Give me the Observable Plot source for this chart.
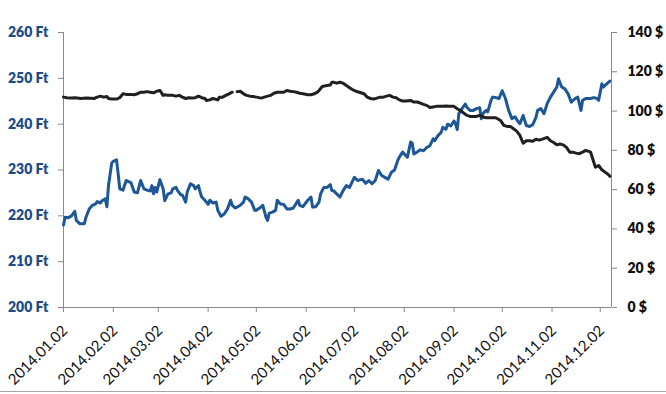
<!DOCTYPE html>
<html>
<head>
<meta charset="utf-8">
<script src="https://cdn.jsdelivr.net/npm/d3@7"></script>
<script src="https://cdn.jsdelivr.net/npm/@observablehq/plot@0.6"></script>
<style>
  html, body { margin: 0; padding: 0; background: #fff; }
  #wrap { position: relative; width: 666px; height: 394px; overflow: hidden; }
  #edge { position: absolute; left: 0; top: 391px; width: 666px; height: 1px; background: #a6a6a6; }
  #chart g[aria-label="y-axis tick label"], #chart g[aria-label="y-axis tick label"] text { font-weight: 800 !important; font-family: Lato, sans-serif; }
</style>
</head>
<body>
<div id="wrap"><div id="chart"></div><div id="edge"></div></div>
<script>
// Day of year 2014 for each reading of the blue (Ft, left axis) series
const blueDay = [2,3,5,7,9,10,12,15,16,18,20,22,23,25,26,28,29,30,32,33,35,36,37,39,41,43,44,46,48,50,52,54,56,57,58,59,60,62,64,65,67,69,70,72,73,75,76,78,79,81,83,84,86,87,88,90,92,93,95,97,98,100,102,104,106,107,109,112,114,115,117,119,121,122,124,126,128,129,130,132,134,135,137,139,141,143,145,148,149,151,154,156,157,159,161,162,164,166,168,169,
  170,172,174,176,178,180,182,183,185,188,190,192,194,196,198,200,202,204,206,208,210,211,213,216,218,219,220,222,224,226,228,230,232,233,235,237,238,240,241,243,245,246,247,248,250,252,253,255,257,259,261,262,263,265,266,268,269,271,273,275,277,279,281,283,285,286,288,290,292,294,296,297,299,301,303,305,307,309,310,312,314,316,318,320,322,324,325,327,330,332,334,335,337,338,340,342];
const blueFt = [218.0,219.7,219.6,220.0,221.0,219.0,218.3,218.3,219.7,221.5,222.3,222.6,223.1,222.8,223.3,223.7,222.0,226.6,231.5,231.9,232.2,229.2,225.9,225.6,227.7,227.4,227.2,225.2,225.0,227.7,225.9,225.6,225.4,226.6,224.8,226.2,225.2,227.9,225.9,223.3,224.8,225.0,225.9,226.2,225.5,224.6,224.5,223.0,225.2,227.0,226.6,225.9,226.6,225.2,224.1,223.4,222.5,223.4,222.8,223.0,221.2,219.9,220.4,221.5,223.4,222.3,221.7,222.3,223.0,224.1,223.7,223.0,221.2,221.2,221.7,222.3,219.7,219.0,220.6,220.8,221.2,223.4,222.6,222.5,221.5,221.5,221.7,223.4,222.3,222.0,223.4,224.1,221.9,222.0,223.0,224.8,226.2,226.2,226.8,225.5,
  225.5,224.8,224.1,225.5,226.6,226.2,227.7,228.4,227.7,228.0,227.1,227.7,227.0,227.7,229.9,228.8,228.4,228.0,229.5,230.0,232.1,232.8,233.9,232.8,236.1,235.9,233.5,233.9,234.4,234.2,234.9,235.3,236.8,236.4,237.5,238.2,239.3,238.9,240.0,239.6,240.7,240.0,238.8,242.3,243.4,244.4,243.7,243.0,243.0,243.4,243.6,241.2,242.3,243.0,242.7,245.2,245.9,245.8,245.6,247.3,245.6,243.0,241.2,241.6,240.5,240.1,241.9,239.7,239.5,239.9,241.5,243.0,243.4,242.3,244.5,245.9,247.0,248.1,249.9,248.1,247.7,246.6,244.8,245.5,245.9,243.0,245.2,245.6,245.6,245.8,245.6,245.2,248.8,248.1,248.8,249.4];

// Day of year 2014 for each reading of the black ($, right axis) series; null = missing day
const blackDay = [2,4,7,9,13,16,19,21,23,25,27,29,30,32,35,37,39,41,44,46,48,50,52,54,56,58,60,62,64,65,67,70,72,74,76,78,80,82,84,86,88,90,91,93,95,98,99,101,103,105,107,108,110,112,114,116,118,120,122,125,127,129,131,133,135,137,139,141,143,145,147,149,151,154,156,158,160,161,163,166,168,169,
  170,172,174,176,178,180,182,184,186,189,191,193,195,197,199,201,203,205,207,209,211,213,215,218,220,222,224,226,228,230,232,234,236,238,240,242,245,247,249,251,253,255,257,259,261,263,265,267,269,271,274,276,278,280,282,284,286,288,290,292,294,296,298,300,303,305,307,309,311,313,315,317,319,321,323,325,327,330,331,333,335,337,339,341,342];
const blackUsd = [107.1,106.8,106.6,106.8,106.4,106.6,106.5,106.4,107.1,107.6,107.1,107.4,106.4,106.1,106.1,106.8,108.8,108.5,108.5,108.3,108.8,109.6,109.6,109.9,109.6,109.3,110.1,110.5,108.0,108.3,108.0,108.0,107.6,108.0,107.1,106.4,106.8,106.6,106.8,107.6,106.8,106.4,105.4,105.7,106.4,105.7,107.1,107.1,108.0,108.8,109.6,null,109.9,110.1,108.8,108.0,107.6,107.4,107.1,106.6,107.1,107.6,108.0,109.1,109.6,109.6,109.6,110.5,110.1,109.9,109.6,109.1,108.8,108.3,108.3,108.8,109.6,110.5,112.5,113.0,113.3,114.7,
  114.7,114.2,114.7,114.2,113.0,111.9,110.8,110.1,109.6,108.8,107.1,106.4,106.1,106.6,107.1,107.1,107.6,108.0,107.1,106.8,105.7,105.1,105.1,105.4,104.6,104.6,104.1,103.4,102.9,101.8,102.1,102.4,102.4,102.4,102.6,102.4,102.4,101.2,100.3,99.0,97.8,97.3,97.3,97.3,97.8,97.0,96.6,96.6,96.6,96.6,95.2,92.7,92.2,92.2,91.0,89.8,87.6,83.6,84.9,84.9,84.6,85.7,85.2,85.7,86.6,84.9,84.0,82.8,83.2,82.8,81.5,79.1,79.1,78.6,78.3,79.1,80.0,79.1,76.5,71.4,72.3,70.1,68.9,67.7,66.8];

const xTickLabels = ["2014.01.02","2014.02.02","2014.03.02","2014.04.02","2014.05.02","2014.06.02","2014.07.02","2014.08.02","2014.09.02","2014.10.02","2014.11.02","2014.12.02"];
const ftTicks = [200,210,220,230,240,250,260];
const usdTicks = [0,20,40,60,80,100,120,140];
const xDomainLabels = ["2014.01.02","2014.12.09"];

const BLUE = "#1d5796";
const BLUE_TEXT = "#1c4c88";
const BLACK = "#231f20";
const GRAY = "#898989";

const parse = d3.utcParse("%Y.%m.%d");
const dayToDate = (d) => new Date(Date.UTC(2014, 0, d));
const usdToFt = d3.scaleLinear([0, 140], [200, 260]);

const blue = blueDay.map((d, i) => ({date: dayToDate(d), v: blueFt[i]}));
const black = blackDay.map((d, i) => ({date: dayToDate(d), v: blackUsd[i] == null ? NaN : usdToFt(blackUsd[i])}));
const xDomain = xDomainLabels.map(parse);
const xTicks = xTickLabels.map(parse);

const chart = Plot.plot({
  width: 666,
  height: 394,
  marginLeft: 63,
  marginRight: 55,
  marginTop: 32,
  marginBottom: 87,
  style: {fontFamily: "Lato, 'Open Sans', sans-serif", fontSize: "14px", background: "#fff"},
  x: {type: "utc", domain: xDomain},
  y: {domain: [200, 260]},
  marks: [
    Plot.ruleY([200], {stroke: GRAY}),
    Plot.ruleX(xDomain, {stroke: GRAY}),
    Plot.axisX({ticks: xTicks, tickFormat: () => "", tickSize: 5, stroke: GRAY, label: null}),
    Plot.text(xTicks, {x: (d) => d, frameAnchor: "bottom", text: (d, i) => xTickLabels[i], rotate: -45,
      textAnchor: "end", dx: 5, dy: 24, fontSize: 15, fill: "#111"}),
    Plot.axisY({anchor: "left", ticks: ftTicks, tickFormat: (d) => `${d} Ft`, tickSize: 5, tickPadding: 10,
      stroke: GRAY, fill: BLUE_TEXT, fontWeight: "bold", label: null}),
    Plot.axisY({anchor: "right", ticks: usdTicks.map(usdToFt), tickFormat: (d, i) => `${usdTicks[i]} $`, tickSize: 5, tickPadding: 11,
      stroke: GRAY, fill: "#111", fontWeight: "bold", label: null}),
    Plot.line(blue, {x: "date", y: "v", stroke: BLUE, strokeWidth: 3, strokeLinejoin: "round"}),
    Plot.line(black, {x: "date", y: "v", stroke: BLACK, strokeWidth: 3, strokeLinejoin: "round"})
  ]
});
document.getElementById("chart").appendChild(chart);
</script>
</body>
</html>
